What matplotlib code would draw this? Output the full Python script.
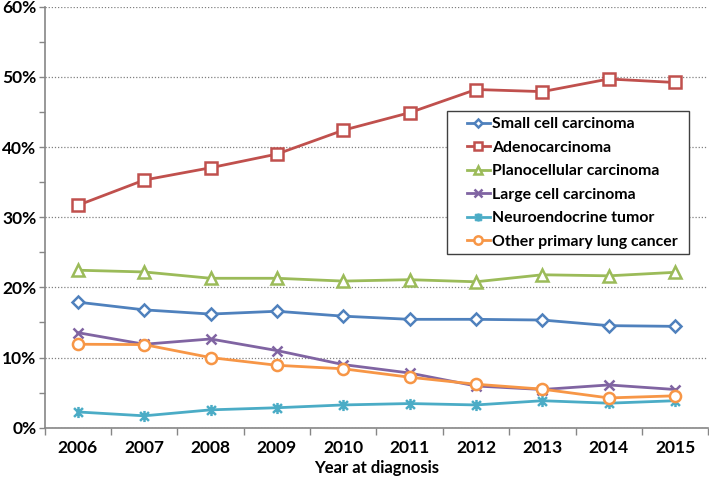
import matplotlib
matplotlib.use("Agg")
import matplotlib.pyplot as plt
from matplotlib.path import Path
from matplotlib.patches import Rectangle
from matplotlib.ticker import FixedLocator, MultipleLocator, FuncFormatter, NullFormatter

years = ["2006", "2007", "2008", "2009", "2010", "2011", "2012", "2013", "2014", "2015"]

small_cell = [17.9, 16.8, 16.2, 16.6, 15.9, 15.45, 15.45, 15.35, 14.55, 14.45]
adeno = [31.7, 35.3, 37.05, 39.0, 42.4, 44.9, 48.2, 47.9, 49.7, 49.2]
planocellular = [22.45, 22.2, 21.3, 21.3, 20.9, 21.1, 20.8, 21.8, 21.65, 22.15]
large_cell = [13.55, 11.9, 12.65, 11.0, 9.0, 7.8, 5.95, 5.45, 6.1, 5.45]
neuroendocrine = [2.25, 1.7, 2.55, 2.85, 3.25, 3.45, 3.25, 3.85, 3.5, 3.85]
other = [11.9, 11.85, 10.0, 8.9, 8.4, 7.2, 6.2, 5.5, 4.25, 4.55]

series_names = ["Small cell carcinoma", "Adenocarcinoma", "Planocellular carcinoma",
                "Large cell carcinoma", "Neuroendocrine tumor", "Other primary lung cancer"]

plt.rcParams['font.family'] = ['Lato', 'DejaVu Sans']

star = Path([(0, -1), (0, 1), (-0.8, -0.8), (0.8, 0.8), (-0.8, 0.8), (0.8, -0.8)],
            [Path.MOVETO, Path.LINETO, Path.MOVETO, Path.LINETO, Path.MOVETO, Path.LINETO])

styles = [
    dict(color="#4F81BD", marker="D", ms=6, mfc="white"),
    dict(color="#C0504D", marker="s", ms=8, mfc="white"),
    dict(color="#9BBB59", marker="^", ms=8, mfc="white"),
    dict(color="#8064A2", marker="x", ms=7, mfc="white"),
    dict(color="#4BACC6", marker=star, ms=8, mfc="white"),
    dict(color="#F79646", marker="o", ms=8, mfc="white"),
]

fig = plt.figure(figsize=(7.09, 4.79), dpi=100)
ax = fig.add_axes([0.063, 0.107, 0.936, 0.879])

x = list(range(len(years)))
data = [small_cell, adeno, planocellular, large_cell, neuroendocrine, other]
for name, vals, st in zip(series_names, data, styles):
    ax.plot(x, vals, label=name, lw=2.0, color=st["color"], marker=st["marker"],
            ms=st["ms"], mfc=st["mfc"], mec=st["color"], mew=1.8, zorder=2)

ax.set_xlim(-0.5, len(years) - 0.5)
ax.set_ylim(0, 60)

ax.xaxis.set_major_locator(FixedLocator([i - 0.5 for i in range(len(years) + 1)]))
ax.xaxis.set_major_formatter(NullFormatter())
ax.xaxis.set_minor_locator(FixedLocator(x))
ax.set_xticklabels(years, minor=True)
ax.tick_params(axis='x', which='major', length=5, width=1, color="#868686", direction='out')
ax.tick_params(axis='x', which='minor', length=0, pad=9, labelsize=12.5)
for lab in ax.get_xticklabels(minor=True):
    lab.set_fontweight('bold')

ax.yaxis.set_major_locator(MultipleLocator(10))
ax.yaxis.set_minor_locator(MultipleLocator(5))
ax.yaxis.set_major_formatter(FuncFormatter(lambda v, p: f"{int(v)}%"))
ax.tick_params(axis='y', which='both', length=4, width=1, color="#868686", direction='out', labelsize=12.5, pad=2)
for lab in ax.get_yticklabels():
    lab.set_fontweight('bold')

ax.grid(axis='y', which='major', linestyle=(0, (1, 1.5)), color="#808080", lw=0.9)
ax.set_axisbelow(True)

for s in ["top", "right"]:
    ax.spines[s].set_visible(False)
for s in ["left", "bottom"]:
    ax.spines[s].set_color("#868686")
    ax.spines[s].set_linewidth(1.2)

ax.set_xlabel("Year at diagnosis", fontsize=12, fontweight='bold', labelpad=3)

# legend frame drawn separately
frame = Rectangle((447 / 709, 1 - 254 / 479), 242 / 709, 143 / 479, transform=fig.transFigure,
                  facecolor="white", edgecolor="#404040", lw=1.0, zorder=4)
ax.add_patch(frame)
frame.set_clip_on(False)

leg = ax.legend(loc='upper left', bbox_to_anchor=(0.6364, 0.738), borderaxespad=0, frameon=False,
                prop={'size': 11.4, 'weight': 'bold'}, markerscale=0.75,
                handlelength=1.45, handletextpad=0.12, borderpad=0, labelspacing=0.6)
leg.set_zorder(5)

fig.savefig("out.png", dpi=100)
